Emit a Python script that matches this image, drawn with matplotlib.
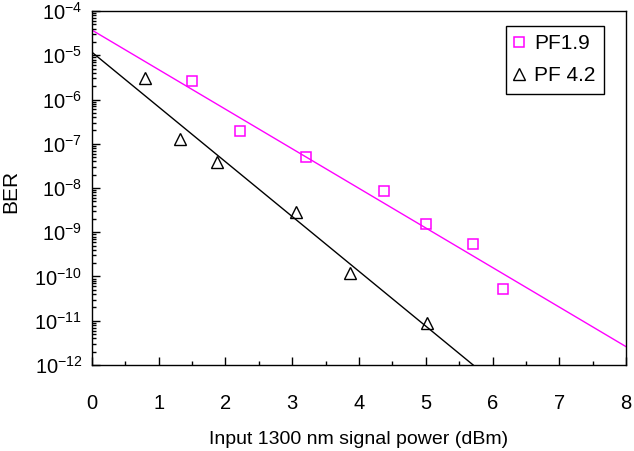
import matplotlib
matplotlib.use("Agg")
import matplotlib.pyplot as plt
from matplotlib.ticker import LogLocator, NullFormatter, MultipleLocator

plt.rcParams['font.family'] = ['Liberation Sans', 'DejaVu Sans']
plt.rcParams['mathtext.fontset'] = 'custom'
plt.rcParams['mathtext.rm'] = 'Liberation Sans'
plt.rcParams['mathtext.it'] = 'Liberation Sans'
plt.rcParams['mathtext.default'] = 'regular'

# measured points
pf19_x = [1.50, 2.21, 3.21, 4.38, 5.00, 5.71, 6.15]
pf19_ber = [2.65e-6, 1.95e-7, 5.0e-8, 8.5e-9, 1.5e-9, 5.3e-10, 5.1e-11]
pf42_x = [0.80, 1.32, 1.88, 3.06, 3.87, 5.02]
pf42_ber = [3.0e-6, 1.25e-7, 3.8e-8, 2.9e-9, 1.17e-10, 9.1e-12]

# fitted lines (end points)
pf19_fit_x = [0.0, 8.0]
pf19_fit_ber = [3.7e-5, 2.6e-12]
pf42_fit_x = [0.0, 5.71]
pf42_fit_ber = [1.17e-5, 1.0e-12]

fig = plt.figure(figsize=(6.34, 4.51), dpi=100)
ax = fig.add_axes([0.1451, 0.1907, 0.8423, 0.7849])

ax.plot(pf19_fit_x, pf19_fit_ber, color='#ff00ff', lw=1.0)
ax.plot(pf42_fit_x, pf42_fit_ber, color='black', lw=1.0)
ax.plot(pf19_x, pf19_ber, 's', ms=7.5, mfc='none', mec='#ff00ff', mew=1.1, label='PF1.9')
ax.plot(pf42_x, pf42_ber, '^', ms=8.5, mfc='none', mec='black', mew=1.0, label='PF 4.2')

ax.set_yscale('log')
ax.set_xlim(0, 8)
ax.set_ylim(1e-12, 1e-4)
ax.xaxis.set_major_locator(MultipleLocator(1))
ax.xaxis.set_minor_locator(MultipleLocator(0.5))
ax.yaxis.set_major_locator(LogLocator(base=10, numticks=20))
ax.yaxis.set_minor_locator(LogLocator(base=10, subs=range(2, 10), numticks=100))
ax.yaxis.set_minor_formatter(NullFormatter())

ax.tick_params(which='both', direction='in', top=False, right=False, labelsize=14.5)
ax.tick_params(axis='x', which='major', length=6, width=1, pad=21)
ax.tick_params(axis='x', which='minor', length=3, width=1)
ax.tick_params(axis='y', which='major', length=6, width=1, pad=7)
ax.tick_params(axis='y', which='minor', length=3, width=1)
for s in ax.spines.values():
    s.set_linewidth(1.0)

ax.set_xlabel('Input 1300 nm signal power (dBm)', fontsize=14, labelpad=13)
ax.set_ylabel('BER', fontsize=15)
ax.yaxis.set_label_coords(-0.135, 0.49)

leg = ax.legend(loc='upper right', bbox_to_anchor=(0.9588, 0.9576), borderaxespad=0,
                fontsize=15, fancybox=False, edgecolor='black', framealpha=1,
                handlelength=0.45, handletextpad=0.5, borderpad=0.4, labelspacing=0.62)
leg.get_frame().set_linewidth(1.0)

plt.savefig('out.png', dpi=100)
